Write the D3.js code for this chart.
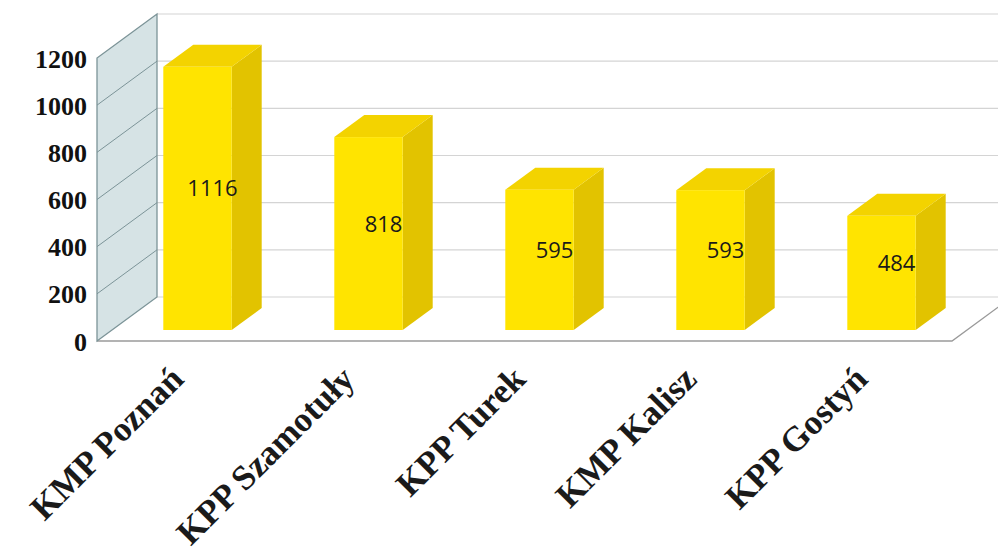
<!DOCTYPE html>
<html>
<head>
<meta charset="utf-8">
<script src="https://cdn.jsdelivr.net/npm/d3@7"></script>
<style>
  body { margin: 0; background: #fff; }
  .ytick text { font-family: "Liberation Serif", serif; font-weight: bold; font-size: 26px; fill: #111; }
  .xtick text { font-family: "Liberation Serif", serif; font-weight: bold; font-size: 35px; fill: #1a1a1a; }
  .label { font-family: "Open Sans", sans-serif; font-size: 22px; fill: #1a1a1a; }
</style>
</head>
<body>
<div id="chart"></div>
<script>
const categories = ['KMP Poznań', 'KPP Szamotuły', 'KPP Turek', 'KMP Kalisz', 'KPP Gostyń'];
const values = [1116, 818, 595, 593, 484];
const yTicks = [0, 200, 400, 600, 800, 1000, 1200];

const draw = () => {
  const W = 998, H = 556;
  const left = 97, right = 952, bottom = 341, top = 58;
  const depth = {dx: 60, dy: -44};
  const colors = {front: '#ffe400', side: '#e2c300', top: '#f3d300',
    wall: '#d6e3e5', wallLine: '#7c9498', grid: '#d4d4d4'};

  const svg = d3.select('#chart')
    .append('svg')
    .attr('width', W)
    .attr('height', H);

  const x = d3.scaleBand()
    .domain(categories)
    .range([left, right])
    .padding(0);
  const y = d3.scaleLinear()
    .domain([0, 1200])
    .range([bottom, top]);

  // point in 3d: front-plane x, value, depth fraction
  const px = (xx, d) => xx + d * depth.dx;
  const py = (v, d) => y(v) + d * depth.dy;

  // back wall gridlines
  svg.append('g')
    .selectAll('line')
    .data(yTicks)
    .join('line')
    .attr('x1', px(left, 1))
    .attr('x2', W)
    .attr('y1', d => py(d, 1))
    .attr('y2', d => py(d, 1))
    .attr('stroke', colors.grid)
    .attr('stroke-width', 1.2);

  // floor front edge and right side
  svg.append('path')
    .attr('d', `M${px(left, 0)},${py(0, 0)} L${px(right, 0)},${py(0, 0)} L${px(right, 1)},${py(0, 1)}`)
    .attr('fill', 'none')
    .attr('stroke', '#9a9a9a')
    .attr('stroke-width', 1.3);

  // side wall
  svg.append('path')
    .attr('d', `M${px(left, 0)},${py(0, 0)} L${px(left, 1)},${py(0, 1)} L${px(left, 1)},${py(1200, 1)} L${px(left, 0)},${py(1200, 0)} Z`)
    .attr('fill', colors.wall)
    .attr('stroke', colors.wallLine)
    .attr('stroke-width', 1.3);
  svg.append('g')
    .selectAll('line')
    .data(yTicks.slice(1, -1))
    .join('line')
    .attr('x1', px(left, 0))
    .attr('x2', px(left, 1))
    .attr('y1', d => py(d, 0))
    .attr('y2', d => py(d, 1))
    .attr('stroke', colors.wallLine)
    .attr('stroke-width', 1);

  // bars
  const barW = x.bandwidth() * 0.4;
  const d0 = 0.25, d1 = 0.75;
  const bx = c => x(c) + x.bandwidth() / 2 - barW / 2;
  const bars = svg.append('g')
    .selectAll('g')
    .data(categories.map((c, i) => ({c, v: values[i]})))
    .join('g');
  bars.append('path')
    .attr('fill', colors.side)
    .attr('d', d => `M${px(bx(d.c) + barW, d0)},${py(0, d0)} L${px(bx(d.c) + barW, d1)},${py(0, d1)} L${px(bx(d.c) + barW, d1)},${py(d.v, d1)} L${px(bx(d.c) + barW, d0)},${py(d.v, d0)} Z`);
  bars.append('path')
    .attr('fill', colors.top)
    .attr('d', d => `M${px(bx(d.c), d0)},${py(d.v, d0)} L${px(bx(d.c), d1)},${py(d.v, d1)} L${px(bx(d.c) + barW, d1)},${py(d.v, d1)} L${px(bx(d.c) + barW, d0)},${py(d.v, d0)} Z`);
  bars.append('rect')
    .attr('fill', colors.front)
    .attr('x', d => px(bx(d.c), d0))
    .attr('y', d => py(d.v, d0))
    .attr('width', barW)
    .attr('height', d => py(0, d0) - py(d.v, d0));
  bars.append('text')
    .attr('class', 'label')
    .attr('text-anchor', 'middle')
    .attr('dominant-baseline', 'central')
    .attr('x', d => (px(bx(d.c), d0) + px(bx(d.c) + barW, d1)) / 2)
    .attr('y', d => (py(d.v, d1) + py(0, d0)) / 2)
    .text(d => d.v);

  // y axis
  svg.append('g')
    .attr('class', 'ytick')
    .attr('transform', `translate(${left}, 0)`)
    .call(d3.axisLeft(y).tickValues(yTicks).tickSize(0).tickPadding(10).tickFormat(d3.format('d')))
    .call(g => g.select('.domain').remove())
    .selectAll('text')
    .attr('dy', '0.35em');

  // x axis
  svg.append('g')
    .attr('class', 'xtick')
    .attr('transform', `translate(0, ${bottom})`)
    .call(d3.axisBottom(x).tickSize(0))
    .call(g => g.select('.domain').remove())
    .selectAll('text')
    .attr('text-anchor', 'end')
    .attr('dy', 0)
    .attr('y', 0)
    .attr('transform', 'translate(3, 40) rotate(-45)');
};

draw();
</script>
</body>
</html>
